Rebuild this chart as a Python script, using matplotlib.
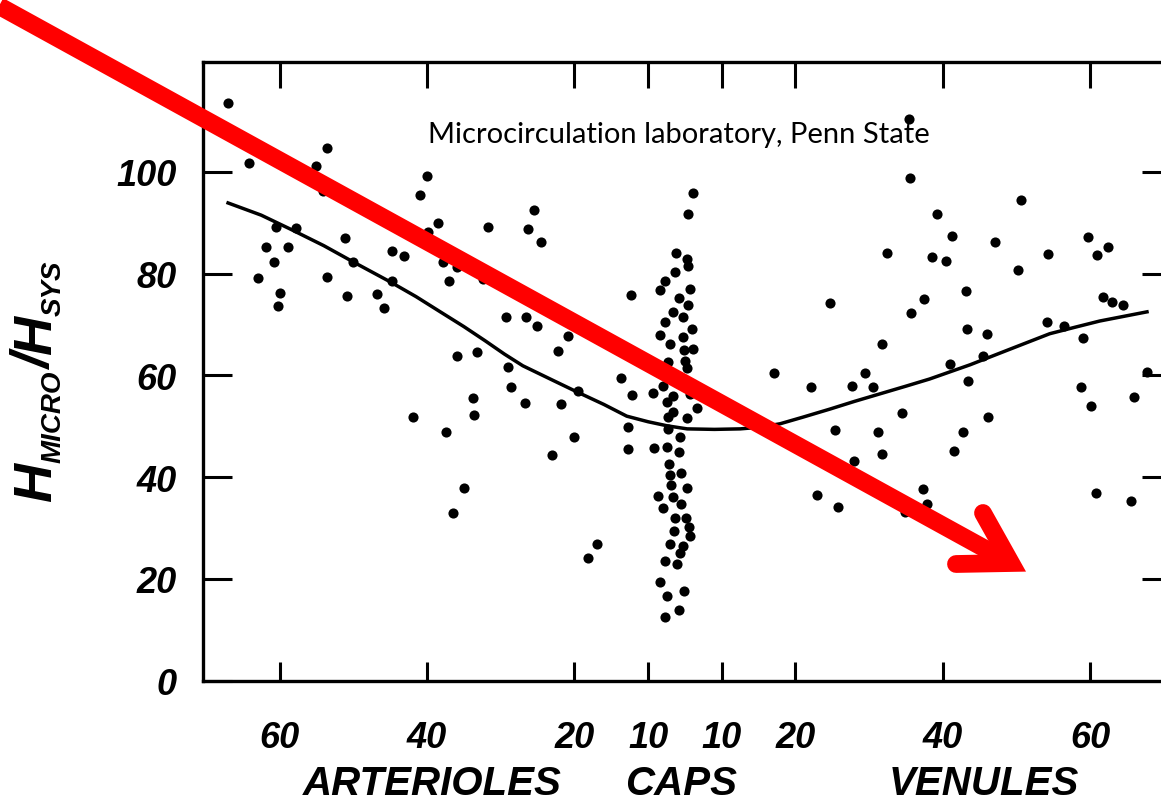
import matplotlib
matplotlib.use("Agg")
import matplotlib.pyplot as plt
from matplotlib import font_manager
import matplotlib.transforms as mtransforms

# ---------------- data ----------------
# x: position along the vessel tree (arterioles < 0, capillaries ~ 0, venules > 0)
# y: H_micro / H_sys (%)
art_x = [-62.0, -59.2, -48.6, -50.1, -49.1, -35.0, -36.0, -33.5, -26.7, -55.5,
         -52.8, -46.1, -56.9, -53.9, -39.8, -38.1, -55.8, -45.0, -32.8, -30.9,
         -57.9, -48.6, -39.8, -32.0, -55.0, -55.2, -45.9, -41.8, -40.8, -30.9,
         -28.2, -34.9, -27.4, -28.8, -28.6, -36.9, -32.4, -30.0, -31.5, -20.5,
         -21.3, -19.5, -24.3, -21.6, -20.1, -15.9, -17.2, -24.0, -23.6, -21.7,
         -16.8, -14.5, -15.1, -18.0, -11.9, -13.2, -8.7, -7.3, -7.2, -7.7, -7.7]
art_y = [113.6, 101.8, 104.7, 101.2, 96.3, 99.2, 95.5, 90.0, 89.2, 89.2,
         89.0, 87.0, 85.3, 85.3, 84.5, 83.5, 82.3, 82.3, 82.3, 81.3,
         79.2, 79.4, 78.6, 78.6, 76.2, 73.7, 75.6, 76.0, 73.3, 63.8,
         64.6, 88.2, 79.0, 55.6, 52.2, 51.8, 48.9, 37.9, 33.0, 92.5,
         88.8, 86.2, 71.5, 71.5, 69.7, 67.8, 64.8, 61.7, 57.7, 54.6,
         54.4, 57.0, 47.9, 44.4, 26.9, 24.1, 59.5, 75.8, 56.2, 49.9, 45.6]

cap_x = [1.1, 0.4, -1.2, 0.3, 0.4, -1.4, -2.7, -3.4, 0.7, -0.8,
         0.4, -1.6, -0.3, -2.7, 0.9, -3.4, -0.3, -2.0, 1.1, -0.1,
         -2.3, 0.0, 0.3, -4.3, -3.0, -1.6, -2.4, 0.7, 1.6, -1.6,
         -2.3, 0.3, -2.3, -0.7, -4.2, -2.4, -0.8, -2.2, -2.0, -0.5,
         0.3, -1.9, -3.7, -1.6, -0.5, -3.0, -1.4, 0.1, 0.5, -1.5,
         0.7, -2.0, -0.3, -0.7, -2.7, -1.1, -3.4, -0.1, -2.4, -0.8, -2.7]
cap_y = [95.9, 91.7, 84.1, 82.9, 81.5, 80.3, 78.6, 76.8, 77.0, 75.2,
         73.9, 72.5, 71.5, 70.5, 69.1, 68.0, 67.6, 66.2, 65.2, 65.0,
         62.7, 62.9, 61.5, 56.6, 57.9, 56.0, 54.8, 56.4, 53.6, 52.8,
         51.8, 51.6, 49.5, 47.9, 45.7, 45.9, 45.0, 42.6, 40.4, 40.8,
         37.9, 38.5, 36.3, 36.1, 34.7, 34.0, 32.0, 32.0, 30.2, 29.4,
         28.5, 26.9, 26.5, 25.1, 23.5, 22.9, 19.4, 17.6, 16.7, 13.9, 12.5]

ven_x = [12.1, 17.1, 22.7, 24.4, 25.5, 19.7, 26.7, 27.4, 30.4, 30.5,
         34.2, 36.2, 33.5, 35.4, 38.1, 32.4, 30.7, 38.3, 36.0, 38.4,
         29.4, 20.4, 26.2, 26.7, 22.9, 37.7, 36.5, 32.3, 32.8, 29.9,
         17.9, 20.8, 45.6, 42.1, 49.3, 54.7, 57.4, 55.9, 45.2, 56.7,
         57.9, 59.4, 49.1, 51.4, 54.0, 41.0, 40.4, 62.7, 41.1, 53.7,
         55.1, 60.9, 55.8, 60.5]
ven_y = [60.5, 57.7, 57.9, 60.5, 57.7, 74.3, 66.2, 84.1, 110.4, 98.8,
         91.7, 87.4, 83.3, 82.5, 76.6, 75.0, 72.3, 69.1, 62.3, 58.9,
         52.6, 49.3, 48.9, 44.6, 43.2, 48.9, 45.2, 37.7, 34.7, 33.2,
         36.5, 34.2, 94.5, 86.2, 83.9, 87.2, 85.3, 83.7, 80.7, 75.4,
         74.4, 73.9, 70.5, 69.7, 67.4, 68.2, 63.8, 60.7, 51.8, 57.7,
         54.0, 55.8, 36.9, 35.3]

# fitted trend curve
fit_x = [-62.0, -57.5, -53.6, -49.0, -45.0, -40.0, -36.5, -33.2, -30.0, -27.1,
         -24.5, -22.0, -18.0, -14.7, -11.0, -7.9, -5.0, -2.4, 0.3, 4.0,
         7.5, 10.0, 12.9, 16.0, 19.7, 23.0, 26.5, 30.0, 33.2, 38.7,
         44.0, 49.5, 53.0, 56.3, 59.5, 62.7]
fit_y = [93.9, 91.5, 88.8, 85.5, 82.3, 78.4, 75.5, 72.5, 69.6, 66.8,
         64.2, 61.9, 59.1, 56.8, 54.3, 52.0, 50.9, 50.1, 49.5, 49.4,
         49.5, 49.8, 50.5, 51.8, 53.4, 54.9, 56.4, 57.9, 59.3, 62.1,
         65.1, 68.2, 69.5, 70.7, 71.6, 72.5]

# axes / ticks
x_tick_pos = [-55, -35, -15, -5, 5, 15, 35, 55]
x_tick_labels = ["60", "40", "20", "10", "10", "20", "40", "60"]
y_ticks = [0, 20, 40, 60, 80, 100]
group_labels = ["ARTERIOLES", "CAPS", "VENULES"]
group_pos = [-34.3, -0.5, 40.6]
title_text = "Microcirculation laboratory, Penn State"

# ---------------- fonts ----------------
names = {f.name for f in font_manager.fontManager.ttflist}
narrow = "Liberation Sans Narrow" if "Liberation Sans Narrow" in names else "Liberation Sans"
title_font = "Lato" if "Lato" in names else "DejaVu Sans"

W, H, DPI = 1161, 804, 100
fig = plt.figure(figsize=(W / DPI, H / DPI), dpi=DPI)
fig.patch.set_facecolor("white")

x0, x1 = 203, 1161
ytop_px, ybot_px = 63, 681.75
ax = fig.add_axes([x0 / W, 1 - ybot_px / H, (x1 - x0) / W, (ybot_px - ytop_px) / H])
ax.set_xlim(-65.4, 64.6)
ax.set_ylim(0, 121.6)

ax.plot(art_x, art_y, "o", color="black", ms=7.3, mew=0, zorder=3)
ax.plot(cap_x, cap_y, "o", color="black", ms=7.3, mew=0, zorder=3)
ax.plot(ven_x, ven_y, "o", color="black", ms=7.3, mew=0, zorder=3)
ax.plot(fit_x, fit_y, "-", color="black", lw=2.5, zorder=2,
        solid_joinstyle="round")

for s in ["left", "bottom", "top"]:
    ax.spines[s].set_linewidth(2.4)
    ax.spines[s].set_color("black")
ax.spines["right"].set_visible(False)

ax.set_xticks(x_tick_pos)
ax.set_xticklabels(x_tick_labels)
ax.set_yticks(y_ticks)
ax.set_yticklabels([str(v) for v in y_ticks])
ax.tick_params(axis="y", direction="in", length=21, width=2.2, pad=19,
               labelsize=26, left=True, right=False)
ax.tick_params(axis="x", direction="in", length=14, width=2.2, pad=28,
               labelsize=26, bottom=True, top=False)
for lab in ax.get_xticklabels() + ax.get_yticklabels():
    lab.set_fontfamily(narrow)
    lab.set_fontweight("bold")
    lab.set_fontstyle("italic")

# right and top ticks
axr = ax.twinx()
axr.set_ylim(ax.get_ylim())
axr.set_yticks(y_ticks[1:])
axr.tick_params(axis="y", direction="in", length=14, width=2.2, labelright=False)
axt = ax.twiny()
axt.set_xlim(ax.get_xlim())
axt.set_xticks(x_tick_pos)
axt.tick_params(axis="x", direction="in", length=19, width=2.2, labeltop=False)
for a in (axr, axt):
    for s in a.spines.values():
        s.set_visible(False)

# group labels under the x axis
trans = mtransforms.blended_transform_factory(ax.transData, fig.transFigure)
for lab, pos in zip(group_labels, group_pos):
    fig.text(pos, 1 - 795 / H, lab, transform=trans, ha="center", va="baseline",
             fontsize=29, fontweight="bold", fontstyle="italic", family=narrow)

# title-like note
fig.text(679 / W, 1 - 143 / H, title_text, ha="center", va="baseline",
         fontsize=21, family=title_font, color="black")

# y label: H_MICRO / H_SYS built from pieces (rotated)
renderer = fig.canvas.get_renderer()
pieces = [("H", 39, 51), ("MICRO", 20, 61), ("/", 39, 51), ("H", 39, 51), ("SYS", 20, 61)]
ycur = 502.0
for txt, size, xbase in pieces:
    t = fig.text(xbase / W, 1 - ycur / H, txt, rotation=90, rotation_mode="anchor",
                 ha="left", va="baseline", fontsize=size, fontweight="bold",
                 fontstyle="italic", family="Liberation Sans")
    bb = t.get_window_extent(renderer=renderer)
    ycur -= bb.height

# red arrow overlay (annotation)
ov = fig.add_axes([0, 0, 1, 1], zorder=10)
ov.set_xlim(0, W)
ov.set_ylim(H, 0)
ov.axis("off")
ov.patch.set_alpha(0)
shaft = ([-10, 1011], [2.0, 564])
head = ([983, 1011, 956], [514, 564, 565])
ov.plot(*shaft, color="#ff0000", lw=12.8, solid_capstyle="butt")
ov.plot(*head, color="#ff0000", lw=12.8, solid_capstyle="round", solid_joinstyle="miter")

fig.savefig("out.png", dpi=DPI, facecolor="white")
